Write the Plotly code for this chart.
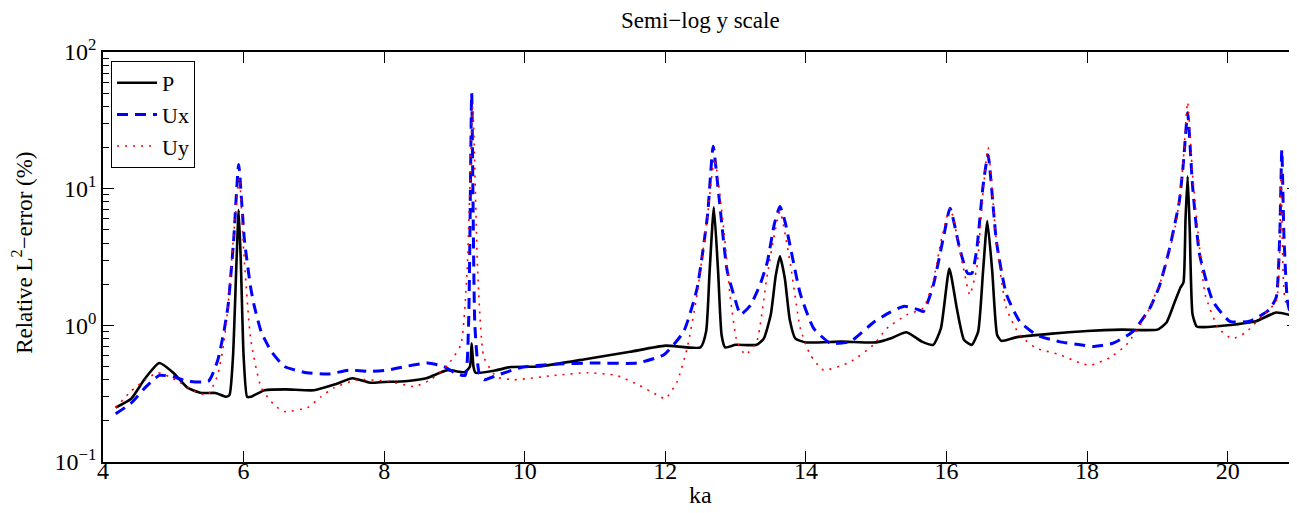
import plotly.graph_objects as go

# ---- data ----
p_x = [4.18, 4.4, 4.6, 4.8, 5.0, 5.2, 5.4, 5.6, 5.75, 5.8, 5.85, 5.9, 5.93, 5.96, 6.0, 6.05, 6.1,
       6.3, 6.6, 7.0, 7.3, 7.55, 7.8, 8.0, 8.3, 8.6, 8.9, 9.15, 9.22, 9.245, 9.27, 9.3, 9.6, 9.8,
       10.2, 10.9, 11.5, 12.0, 12.5, 12.58, 12.63, 12.69, 12.75, 12.8, 12.85, 13.0, 13.3, 13.4,
       13.5, 13.57, 13.63, 13.7, 13.77, 13.85, 14.0, 14.5, 15.0, 15.2, 15.43, 15.65, 15.81, 15.92,
       16.04, 16.15, 16.25, 16.36, 16.45, 16.52, 16.58, 16.65, 16.72, 16.78, 17.0, 17.5, 18.0,
       18.5, 19.0, 19.13, 19.25, 19.33, 19.37, 19.4, 19.43, 19.46, 19.5, 19.56, 19.65, 20.0, 20.4,
       20.69, 21.0]
p_y = [0.25, 0.29, 0.41, 0.53, 0.45, 0.35, 0.32, 0.32, 0.30, 0.31, 0.6, 3.0, 7.0, 3.0, 0.6, 0.30, 0.30,
       0.335, 0.34, 0.335, 0.37, 0.41, 0.38, 0.385, 0.39, 0.41, 0.47, 0.455, 0.5, 0.74, 0.5, 0.45, 0.47, 0.495,
       0.50, 0.57, 0.64, 0.71, 0.69, 0.9, 2.5, 7.3, 2.5, 0.85, 0.69, 0.72, 0.72, 0.8,
       1.2, 2.3, 3.2, 2.2, 1.1, 0.8, 0.75, 0.76, 0.75, 0.8, 0.89, 0.76, 0.72, 0.95,
       2.6, 1.3, 0.78, 0.72, 0.9, 2.5, 5.8, 2.5, 0.85, 0.77, 0.82, 0.87, 0.91,
       0.93, 0.93, 1.05, 1.5, 1.9, 2.05, 6.0, 12.3, 5.0, 1.2, 0.98, 0.97, 1.0, 1.07,
       1.24, 1.15]

ux_x = [4.18, 4.4, 4.6, 4.8, 5.0, 5.2, 5.5, 5.63, 5.72, 5.78, 5.86, 5.93, 6.01, 6.1, 6.15, 6.25,
        6.39, 6.58, 6.9, 7.2, 7.5, 7.8, 8.05, 8.3, 8.62, 8.85, 9.0, 9.15, 9.2, 9.245, 9.29, 9.35,
        9.42, 9.6, 9.94, 10.42, 11.0, 11.6, 11.98, 12.26, 12.45, 12.6, 12.68, 12.76, 12.88, 13.0,
        13.07, 13.21, 13.35, 13.45, 13.55, 13.63, 13.7, 13.78, 13.92, 14.11, 14.35, 14.63, 14.96,
        15.2, 15.4, 15.6, 15.67, 15.81, 15.96, 16.05, 16.19, 16.3, 16.36, 16.43, 16.52, 16.59,
        16.71, 16.85, 17.04, 17.28, 17.6, 17.9, 18.1, 18.37, 18.65, 18.89, 19.03, 19.17, 19.31,
        19.37, 19.43, 19.5, 19.6, 19.79, 20.03, 20.31, 20.59, 20.69, 20.74, 20.77, 20.8, 20.85,
        20.9, 21.0]
ux_y = [0.225, 0.27, 0.35, 0.43, 0.42, 0.39, 0.39, 0.55, 0.9, 1.4, 4.3, 15.0, 4.3, 1.9, 1.4, 0.9,
        0.65, 0.50, 0.45, 0.44, 0.47, 0.46, 0.47, 0.50, 0.53, 0.50, 0.45, 0.43, 1.0, 50.0, 1.0, 0.45,
        0.40, 0.43, 0.49, 0.52, 0.53, 0.53, 0.61, 0.9, 1.85, 6.4, 20.4, 9.0, 2.5, 1.5,
        1.2, 1.4, 2.0, 2.9, 5.5, 7.4, 5.8, 3.7, 1.7, 0.95, 0.74, 0.76, 1.05,
        1.25, 1.38, 1.3, 1.26, 1.95, 4.5, 7.2, 3.6, 2.4, 2.4, 3.6, 10.5, 17.7,
        4.1, 1.7, 1.07, 0.85, 0.76, 0.72, 0.70, 0.74, 0.90, 1.33, 1.95, 3.6, 8.0,
        15.5, 36.0, 10.5, 3.3, 1.5, 1.07, 1.07, 1.3, 1.6, 4.5, 19.3, 4.5, 1.5,
        1.2, 1.1]

uy_x = [4.18, 4.4, 4.6, 4.78, 4.95, 5.1, 5.3, 5.49, 5.63, 5.72, 5.78, 5.87, 5.94, 6.0, 6.1, 6.25,
        6.44, 6.58, 6.91, 7.1, 7.29, 7.62, 8.05, 8.43, 8.66, 8.9, 9.09, 9.18, 9.26, 9.33, 9.42, 9.6,
        9.85, 10.42, 10.89, 11.3, 11.6, 11.88, 12.0, 12.17, 12.31, 12.45, 12.6, 12.7, 12.83, 12.92,
        13.02, 13.14, 13.3, 13.45, 13.63, 13.78, 13.92, 14.06, 14.25, 14.63, 14.96, 15.15, 15.43,
        15.67, 15.81, 15.92, 16.05, 16.24, 16.33, 16.43, 16.52, 16.59, 16.71, 16.85, 17.04, 17.28,
        17.61, 17.9, 18.05, 18.32, 18.56, 18.84, 19.08, 19.27, 19.36, 19.43, 19.5, 19.6, 19.68,
        19.87, 20.06, 20.26, 20.5, 20.69, 20.76, 20.82, 20.92, 21.0]
uy_y = [0.25, 0.33, 0.40, 0.45, 0.42, 0.38, 0.33, 0.31, 0.43, 0.75, 1.4, 5.4, 12.0, 3.6, 0.8, 0.35,
        0.26, 0.234, 0.25, 0.30, 0.35, 0.40, 0.39, 0.357, 0.40, 0.51, 0.72, 2.5, 40.0, 2.5, 0.58, 0.42,
        0.40, 0.43, 0.45, 0.43, 0.37, 0.31, 0.29, 0.39, 0.68, 1.67, 6.4, 16.7, 5.1, 1.67,
        0.76, 0.61, 0.76, 2.35, 6.8, 2.77, 0.95, 0.61, 0.47, 0.54, 0.72, 0.95, 1.19,
        1.34, 2.1, 4.1, 7.2, 2.62, 1.67, 2.62, 9.5, 20.0, 4.1, 1.34, 0.85, 0.68,
        0.61, 0.53, 0.51, 0.58, 0.72, 1.19, 2.35, 5.8, 14.2, 43.0, 12.6, 3.67, 1.67,
        0.95, 0.80, 0.89, 1.19, 1.5, 13.0, 1.5, 1.34, 1.25]

series_names = ["P", "Ux", "Uy"]
y_tickvals = [0.1, 1, 10, 100]
y_ticktext = ["10<sup>−1</sup>", "10<sup>0</sup>", "10<sup>1</sup>", "10<sup>2</sup>"]
x_tickvals = [4, 6, 8, 10, 12, 14, 16, 18, 20]

FONT = "Times New Roman, Tinos, Liberation Serif, Noto Serif, DejaVu Serif, serif"

fig = go.Figure()
fig.add_trace(go.Scatter(x=p_x, y=p_y, mode="lines", name=series_names[0],
                         line=dict(color="black", width=2.6, shape="spline", smoothing=0.5)))
fig.add_trace(go.Scatter(x=ux_x, y=ux_y, mode="lines", name=series_names[1],
                         line=dict(color="blue", width=3, dash="11px,7px",
                                   shape="spline", smoothing=0.5)))
fig.add_trace(go.Scatter(x=uy_x, y=uy_y, mode="lines", name=series_names[2],
                         line=dict(color="red", width=1.6, dash="2px,6px",
                                   shape="spline", smoothing=0.5)))

axis_common = dict(showline=True, linecolor="black", linewidth=1.5, mirror="ticks",
                   ticks="inside", tickcolor="black", tickwidth=1, showgrid=False,
                   zeroline=False, tickfont=dict(family=FONT, size=24, color="black"))

fig.update_xaxes(range=[4, 21], tickvals=x_tickvals, ticklen=11, ticklabelstandoff=-14,
                 **axis_common)
fig.update_yaxes(type="log", range=[-1, 2], tickvals=y_tickvals, ticktext=y_ticktext,
                 ticklen=11, minor=dict(ticks="inside", ticklen=6, tickcolor="black",
                                        dtick="D1", showgrid=False),
                 **axis_common)

fig.update_layout(
    width=1297, height=513,
    margin=dict(l=95, r=5, t=44, b=59),
    paper_bgcolor="white", plot_bgcolor="white",
    font=dict(family=FONT, size=24, color="black"),
    showlegend=True,
    legend=dict(x=0.0067, y=0.978, xanchor="left", yanchor="top",
                bordercolor="black", borderwidth=1, bgcolor="white",
                font=dict(family=FONT, size=22, color="black"), tracegroupgap=0,
                itemwidth=40),
    annotations=[
        dict(text="Semi−log y scale", xref="paper", yref="paper", x=0.5, y=1.077,
             xanchor="center", yanchor="middle", showarrow=False,
             font=dict(family=FONT, size=23, color="black")),
        dict(text="ka", xref="paper", yref="paper", x=0.5, y=-0.08, xanchor="center",
             yanchor="middle", showarrow=False, font=dict(family=FONT, size=24, color="black")),
        dict(text="Relative L<sup>2</sup>−error (%)", xref="paper", yref="paper",
             x=-0.067, y=0.51, xanchor="center", yanchor="middle", textangle=-90,
             showarrow=False, font=dict(family=FONT, size=23, color="black")),
    ],
)

fig.write_html("out.html")
